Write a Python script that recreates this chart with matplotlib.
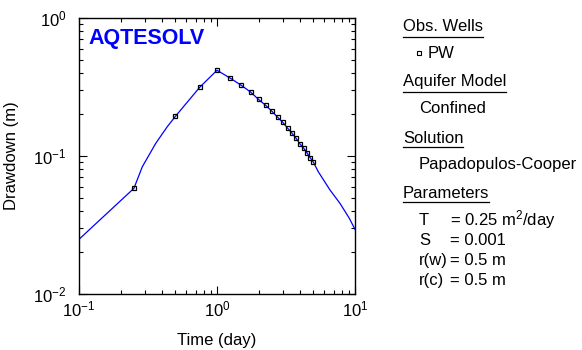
import matplotlib
matplotlib.use("Agg")
import matplotlib.pyplot as plt
from matplotlib.lines import Line2D

plt.rcParams['font.family'] = ['Liberation Sans', 'DejaVu Sans']
plt.rcParams['mathtext.fontset'] = 'custom'
plt.rcParams['mathtext.rm'] = 'Liberation Sans'
plt.rcParams['mathtext.it'] = 'Liberation Sans:italic'
plt.rcParams['mathtext.bf'] = 'Liberation Sans:bold'
plt.rcParams['mathtext.default'] = 'regular'

# ---- data ----
t_obs = [0.25, 0.5, 0.75, 1.0, 1.25, 1.5, 1.75, 2.0, 2.25, 2.5, 2.75, 3.0,
         3.25, 3.5, 3.75, 4.0, 4.25, 4.5, 4.75, 5.0]
s_obs = [0.0583, 0.194, 0.315, 0.418, 0.366, 0.325, 0.291, 0.257, 0.233, 0.211,
         0.191, 0.175, 0.159, 0.146, 0.134, 0.122, 0.114, 0.105, 0.0968, 0.090]

t_fit = [0.1, 0.25, 0.2876, 0.36, 0.436, 0.5, 0.75, 1.0, 1.25, 1.5, 1.75,
         2.0, 2.25, 2.5, 2.75, 3.0, 3.25, 3.5, 3.75, 4.0, 4.25, 4.5, 4.75, 5.0,
         5.42, 6.59, 7.78, 9.09, 10.0]
s_fit = [0.0249, 0.0583, 0.0836, 0.1236, 0.163, 0.194, 0.315, 0.418,
         0.366, 0.325, 0.291, 0.257, 0.233, 0.211, 0.191, 0.175, 0.159, 0.146,
         0.134, 0.122, 0.114, 0.105, 0.0968, 0.090, 0.0769, 0.0567, 0.0454,
         0.0354, 0.0294]

x_label = "Time (day)"
y_label = "Drawdown (m)"
logo = "AQTESOLV"

W, H = 582, 350
fig = plt.figure(figsize=(W / 100, H / 100), dpi=100)

def fx(x):
    return x / W

def fy(y):
    return 1 - y / H

ax = fig.add_axes([fx(79), fy(294), (355 - 79) / W, (294 - 18) / H])
ax.set_xscale('log')
ax.set_yscale('log')
ax.set_xlim(0.1, 10)
ax.set_ylim(0.01, 1)

ax.plot(t_fit, s_fit, color='#0000ff', lw=0.9, zorder=2)
ax.plot(t_obs, s_obs, linestyle='none', marker='s', markersize=3.4,
        markerfacecolor='none', markeredgecolor='black', markeredgewidth=0.9,
        zorder=3)

for sp in ax.spines.values():
    sp.set_linewidth(1.0)
    sp.set_color('black')

ax.tick_params(which='both', direction='in', top=True, right=True,
               colors='black', labelsize=12, width=0.8)
ax.tick_params(which='major', length=6)
ax.tick_params(which='minor', length=3)
ax.tick_params(axis='x', which='major', pad=4)
ax.tick_params(axis='y', which='major', pad=9)

ax.text(0.033, 0.925, logo, transform=ax.transAxes, color='#0000ff',
        fontsize=15.5, fontweight='bold', ha='left', va='center')

fig.text(fx(217), fy(341), x_label, fontsize=12, ha='center', va='center')
fig.text(fx(12), fy(156), y_label, fontsize=12, ha='center', va='center',
         rotation=90)

# ---- right-hand legend panel ----
fs = 12
headers = [("Obs. Wells", 31, 36.7), ("Aquifer Model", 86, 91.7),
           ("Solution", 143.3, 147.2), ("Parameters", 198.3, 202.2)]
hdr_texts = []
for label, yb, yu in headers:
    t = fig.text(fx(403), fy(yb), label, fontsize=fs, ha='left', va='baseline')
    hdr_texts.append((t, yu))

fig.text(fx(428), fy(57.7), "PW", fontsize=fs, ha='left', va='baseline')
fig.add_artist(Line2D([fx(418.7)], [fy(52.7)], transform=fig.transFigure,
                      marker='s', markersize=3.0, markerfacecolor='none',
                      markeredgecolor='black', markeredgewidth=0.8,
                      linestyle='none'))
fig.text(fx(419), fy(112.7), "Confined", fontsize=fs, ha='left', va='baseline')
fig.text(fx(419), fy(169.3), "Papadopulos-Cooper", fontsize=fs, ha='left',
         va='baseline')

param_names = ["T", "S", "r(w)", "r(c)"]
param_vals = ["= 0.25 m$^2$/day", "= 0.001", "= 0.5 m", "= 0.5 m"]
param_base = [225, 245, 265, 285]
for n, v, yb in zip(param_names, param_vals, param_base):
    fig.text(fx(419), fy(yb), n, fontsize=fs, ha='left', va='baseline')
    fig.text(fx(450), fy(yb), v, fontsize=fs, ha='left', va='baseline')

fig.canvas.draw()
r = fig.canvas.get_renderer()
for t, yu in hdr_texts:
    bb = t.get_window_extent(r)
    fig.add_artist(Line2D([fx(403), bb.x1 / W], [fy(yu), fy(yu)],
                          transform=fig.transFigure, color='black', lw=0.9))

fig.savefig("out.png", dpi=100)
